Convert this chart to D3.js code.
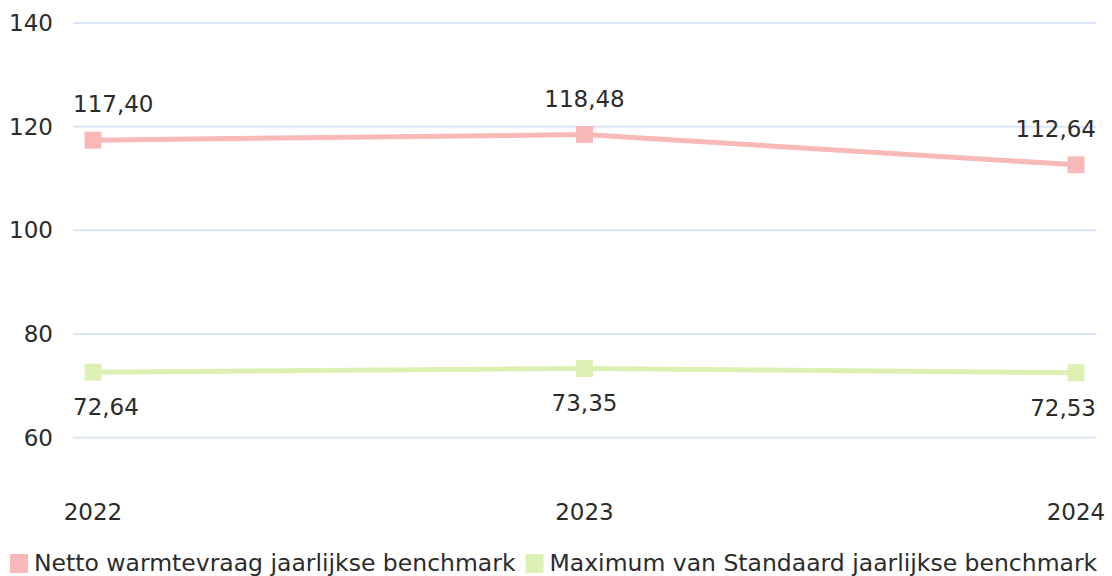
<!DOCTYPE html>
<html>
<head>
<meta charset="utf-8">
<script src="https://cdn.jsdelivr.net/npm/d3@7"></script>
<style>
  body { margin: 0; background: #fff; }
  text { font-family: "DejaVu Sans", Verdana, sans-serif; fill: #2b2b2b; }
</style>
</head>
<body>
<div id="chart"></div>
<script>
var years = ["2022", "2023", "2024"];
var nettoValues = [117.40, 118.48, 112.64];
var standaardValues = [72.64, 73.35, 72.53];
var yTicks = [60, 80, 100, 120, 140];
var seriesNames = ["Netto warmtevraag jaarlijkse benchmark", "Maximum van Standaard jaarlijkse benchmark"];
var seriesColors = ["#f8b9b8", "#ddf1b5"];

var width = 1112, height = 576;
var plotLeft = 73, plotRight = 1096;
var fontSize = "23px";

var svg = d3.select("#chart").append("svg")
  .attr("width", width)
  .attr("height", height);

var x = d3.scalePoint().domain(years).range([93, 1076]);
var y = d3.scaleLinear().domain([50, 140]).range([489.5, 23]);

// gridlines
svg.append("g")
  .selectAll("line")
  .data(yTicks)
  .enter()
  .append("line")
  .attr("x1", plotLeft)
  .attr("x2", plotRight)
  .attr("y1", function (d) { return y(d); })
  .attr("y2", function (d) { return y(d); })
  .attr("stroke", "#dce5f7")
  .attr("stroke-width", 2);

// y tick labels
svg.append("g")
  .selectAll("text")
  .data(yTicks)
  .enter()
  .append("text")
  .attr("x", 53)
  .attr("y", function (d) { return y(d); })
  .attr("dy", "0.35em")
  .attr("text-anchor", "end")
  .style("font-size", fontSize)
  .text(function (d) { return d; });

// x labels
svg.append("g")
  .selectAll("text")
  .data(years)
  .enter()
  .append("text")
  .attr("x", function (d) { return x(d); })
  .attr("y", 520)
  .attr("text-anchor", "middle")
  .style("font-size", fontSize)
  .text(function (d) { return d; });

var series = [
  { name: seriesNames[0], values: nettoValues, color: seriesColors[0], labelDy: -28 },
  { name: seriesNames[1], values: standaardValues, color: seriesColors[1], labelDy: 43 }
];

var line = d3.line()
  .x(function (d, i) { return x(years[i]); })
  .y(function (d) { return y(d); });

var fmt = function (v) { return v.toFixed(2).replace(".", ","); };

series.forEach(function (s) {
  svg.append("path")
    .datum(s.values)
    .attr("fill", "none")
    .attr("stroke", s.color)
    .attr("stroke-width", 5)
    .attr("d", line);

  svg.append("g")
    .selectAll("rect")
    .data(s.values)
    .enter()
    .append("rect")
    .attr("x", function (d, i) { return x(years[i]) - 8.5; })
    .attr("y", function (d) { return y(d) - 8.5; })
    .attr("width", 17)
    .attr("height", 17)
    .attr("fill", s.color);

  svg.append("g")
    .selectAll("text")
    .data(s.values)
    .enter()
    .append("text")
    .attr("y", function (d) { return y(d) + s.labelDy; })
    .style("font-size", fontSize)
    .text(fmt)
    .each(function (d, i) {
      var w = this.getComputedTextLength();
      var cx = x(years[i]);
      var left = Math.max(plotLeft, Math.min(plotRight - w, cx - w / 2));
      d3.select(this).attr("x", left);
    });
});

// legend
var legend = svg.append("g");
var lx = 10;
seriesNames.forEach(function (name, i) {
  legend.append("rect")
    .attr("x", lx)
    .attr("y", 554)
    .attr("width", 18)
    .attr("height", 19)
    .attr("fill", seriesColors[i]);
  var t = legend.append("text")
    .attr("x", lx + 24)
    .attr("y", 571)
    .style("font-size", "23.5px")
    .text(name);
  lx += 24 + t.node().getComputedTextLength() + 10;
});
</script>
</body>
</html>
